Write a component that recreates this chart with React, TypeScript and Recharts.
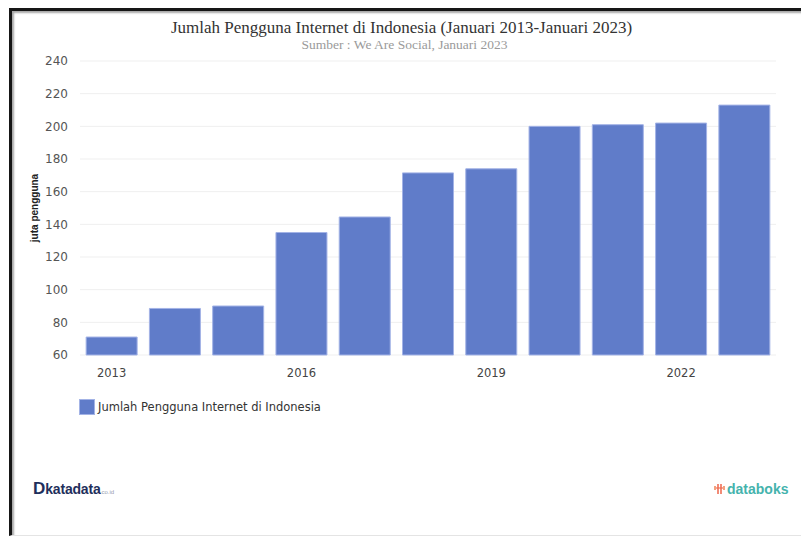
import React from 'react';
import { BarChart, Bar, XAxis, YAxis, CartesianGrid } from 'recharts';

const years = ['2013', '2014', '2015', '2016', '2017', '2018', '2019', '2020', '2021', '2022', '2023'];
const users = [71, 88.5, 90, 135, 144.5, 171.5, 174, 200, 201, 202, 213];
const yTicks = [60, 80, 100, 120, 140, 160, 180, 200, 220, 240];
const seriesName = 'Jumlah Pengguna Internet di Indonesia';
const title = 'Jumlah Pengguna Internet di Indonesia (Januari 2013-Januari 2023)';
const subtitle = 'Sumber : We Are Social, Januari 2023';
const yLabel = 'juta pengguna';

const data = years.map((y, i) => ({ year: y, value: users[i] }));

const BAR = '#607cc9';

export default function App() {
  return (
    <div style={{ position: 'absolute', left: 0, top: 0, width: 801, height: 538, background: '#fff', overflow: 'hidden' }}>
      <div
        style={{
          position: 'absolute',
          left: 9,
          top: 8,
          width: 801,
          height: 528,
          borderTop: '3px solid #161616',
          borderLeft: '3px solid #161616',
          borderBottom: '1px solid #e4e4e4',
          boxShadow: 'inset 2px 2px 2px #a8a8a8',
          boxSizing: 'border-box',
        }}
      />
      <div
        style={{
          position: 'absolute',
          left: 1,
          width: 801,
          top: 19,
          textAlign: 'center',
          fontFamily: '"Liberation Serif", serif',
          fontSize: 17,
          color: '#333',
          lineHeight: '18px',
          whiteSpace: 'nowrap',
        }}
      >
        {title}
      </div>
      <div
        style={{
          position: 'absolute',
          left: 4,
          width: 801,
          top: 37,
          textAlign: 'center',
          fontFamily: '"Liberation Serif", serif',
          fontSize: 13.5,
          color: '#9a9a9a',
          lineHeight: '16px',
          whiteSpace: 'nowrap',
        }}
      >
        {subtitle}
      </div>
      <div style={{ position: 'absolute', left: 0, top: 0 }}>
        <BarChart width={801} height={538} data={data} margin={{ top: 61, right: 25, left: 0, bottom: 153 }} barCategoryGap="9.7%">
          <CartesianGrid vertical={false} stroke="#efefef" />
          <XAxis
            dataKey="year"
            interval={2}
            axisLine={false}
            tickLine={false}
            tickMargin={8}
            height={30}
            tick={{ fill: '#444', fontSize: 11.5, fontFamily: '"DejaVu Sans", sans-serif' }}
          />
          <YAxis
            width={80}
            domain={[60, 240]}
            ticks={yTicks}
            axisLine={false}
            tickLine={false}
            tickMargin={6}
            tick={{ fill: '#555', fontSize: 12, fontFamily: '"DejaVu Sans", sans-serif' }}
          />
          <Bar dataKey="value" name={seriesName} fill={BAR} stroke="#a3b3e6" strokeWidth={1} isAnimationActive={false} />
        </BarChart>
      </div>
      <div
        style={{
          position: 'absolute',
          left: 34,
          top: 208,
          transform: 'translate(-50%, -50%) rotate(-90deg)',
          fontFamily: '"Liberation Sans", Arial, sans-serif',
          fontWeight: 'bold',
          fontSize: 10,
          color: '#222',
          whiteSpace: 'nowrap',
        }}
      >
        {yLabel}
      </div>
      <div style={{ position: 'absolute', left: 79, top: 399, display: 'flex', alignItems: 'center' }}>
        <div style={{ width: 14, height: 14, background: BAR, border: '1px solid #a3b3e6' }} />
        <span
          style={{
            marginLeft: 3,
            fontFamily: '"DejaVu Sans", sans-serif',
            fontSize: 11.5,
            color: '#333',
          }}
        >
          {seriesName}
        </span>
      </div>
      <div
        style={{
          position: 'absolute',
          left: 33,
          top: 481,
          fontFamily: '"Liberation Sans", Arial, sans-serif',
          fontWeight: 'bold',
          color: '#1f2f5c',
          whiteSpace: 'nowrap',
          lineHeight: '16px',
        }}
      >
        <span style={{ fontSize: 17 }}>D</span>
        <span style={{ fontSize: 14, letterSpacing: -0.2 }}>katadata</span>
        <span style={{ fontSize: 6, color: '#9aa0b0', fontWeight: 'normal', marginLeft: 1 }}>co.id</span>
      </div>
      <div style={{ position: 'absolute', left: 714, top: 481, display: 'flex', alignItems: 'center' }}>
        <svg width={12} height={12} viewBox="0 0 12 12">
          <line x1={1} y1={3} x2={1} y2={7} stroke="#f08a5d" strokeWidth={1.6} />
          <line x1={4} y1={1} x2={4} y2={11} stroke="#ef6f55" strokeWidth={1.6} />
          <line x1={7} y1={1} x2={7} y2={11} stroke="#ef6f55" strokeWidth={1.6} />
          <line x1={10} y1={3} x2={10} y2={7} stroke="#f08a5d" strokeWidth={1.6} />
          <line x1={2} y1={5} x2={9} y2={5} stroke="#ef6f55" strokeWidth={1.2} />
        </svg>
        <span
          style={{
            marginLeft: 1,
            fontFamily: '"Liberation Sans", Arial, sans-serif',
            fontWeight: 'bold',
            fontSize: 14,
            color: '#45b3ad',
            lineHeight: '16px',
          }}
        >
          databoks
        </span>
      </div>
    </div>
  );
}
